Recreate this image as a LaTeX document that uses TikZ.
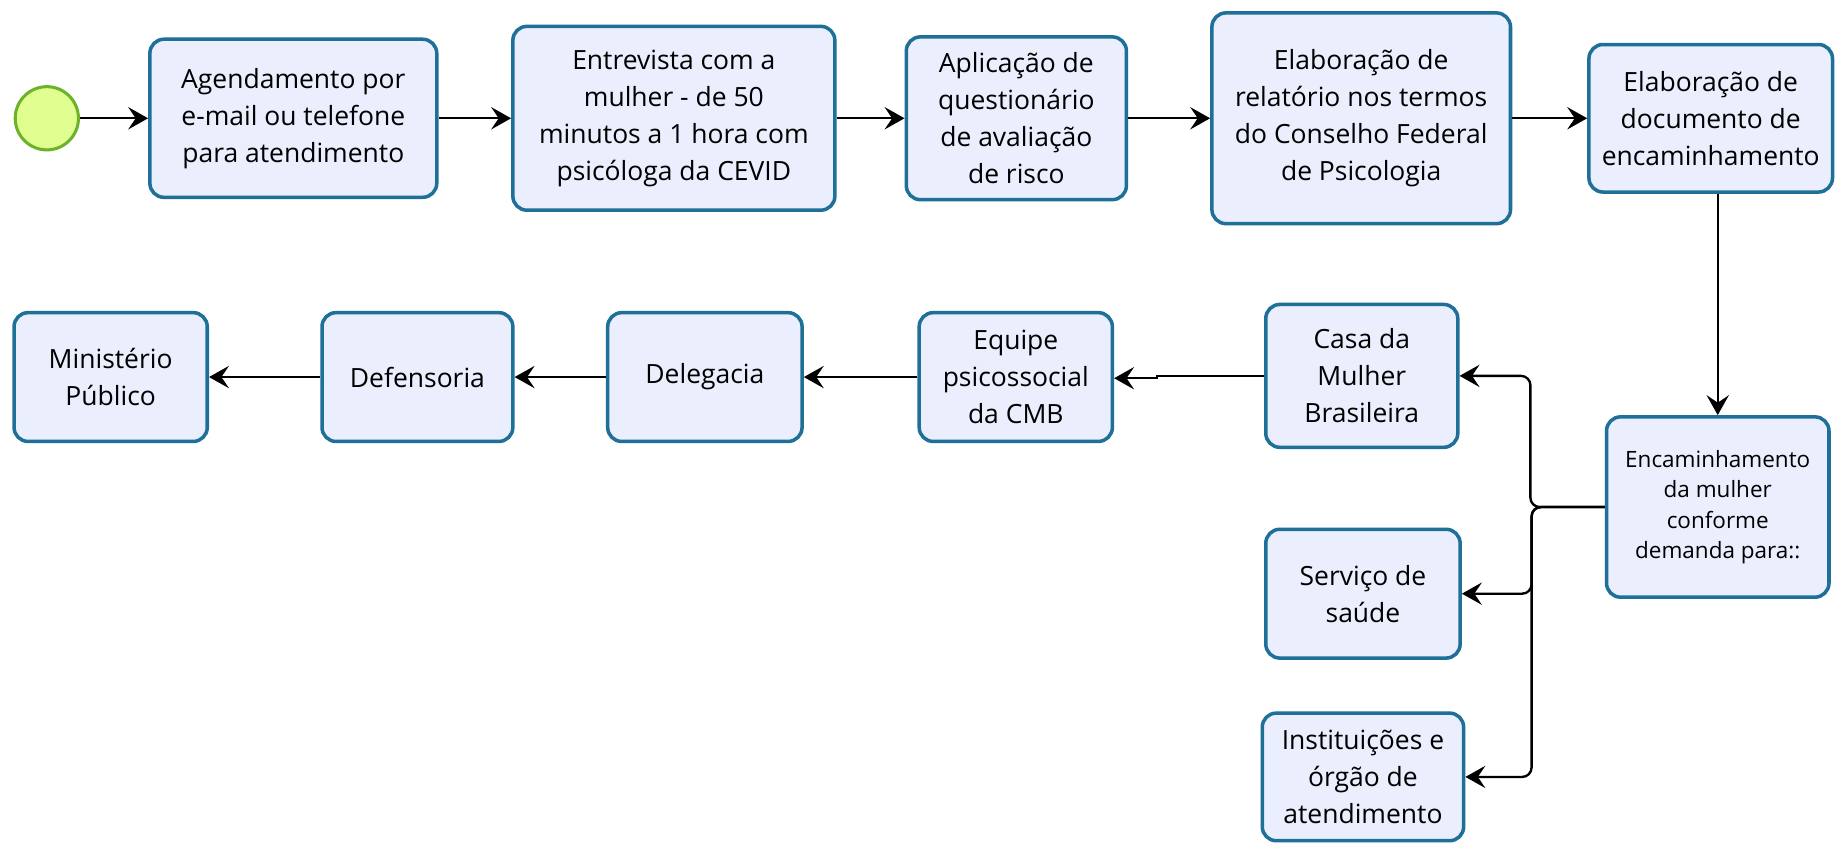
\documentclass[tikz,border=0pt]{standalone}
\usepackage{fontspec}
\setmainfont{Open Sans}
\usetikzlibrary{arrows.meta}
\definecolor{boxline}{RGB}{30,112,152}
\definecolor{boxfill}{RGB}{234,238,253}
\definecolor{startfill}{RGB}{224,255,144}
\definecolor{startline}{RGB}{110,178,42}
\begin{document}
\begin{tikzpicture}[x=0.5pt,y=-0.5pt,
  box/.style={draw=boxline, fill=boxfill, line width=1.5pt, rounded corners=6pt,
    align=center, inner sep=2pt, font=\fontsize{11.3}{15.8}\selectfont},
  sz/.style 2 args={minimum width=#1*0.5pt, minimum height=#2*0.5pt},
  conn/.style={draw=black, line width=1pt,
    -{Stealth[length=8.5pt,width=9.5pt,inset=3.2pt]}},
  rc/.style={rounded corners=4pt},
  startev/.style={circle, draw=startline, fill=startfill, line width=1.3pt, minimum size=27pt, inner sep=0pt}
]
\fill[white] (0,0) rectangle (1568,720);
\useasboundingbox (0,0) rectangle (1568,720);

\node[startev] (s) at (40,101) {};
\node[box, sz={245}{135}] (a1) at (250.5,101) {Agendamento por\\e-mail ou telefone\\para atendimento};
\node[box, sz={275}{157}] (a2) at (575.5,101) {Entrevista com a\\mulher - de 50\\minutos a 1 hora com\\psicóloga da CEVID};
\node[box, sz={188}{139}] (a3) at (868,101) {Aplicação de\\questionário\\de avaliação\\de risco};
\node[box, sz={255}{180}] (a4) at (1162.5,101) {Elaboração de\\relatório nos termos\\do Conselho Federal\\de Psicologia};
\node[box, sz={208}{126}] (a5) at (1461,101) {Elaboração de\\documento de\\encaminhamento};
\node[box, sz={190}{154}, font=\fontsize{9.6}{13}\selectfont] (enc) at (1467,433) {Encaminhamento\\da mulher\\conforme\\demanda para::};
\node[box, sz={164}{122}] (casa) at (1163,321) {Casa da\\Mulher\\Brasileira};
\node[box, sz={166}{110}] (serv) at (1164,507) {Serviço de\\saúde};
\node[box, sz={172}{109}] (inst) at (1164,663.5) {Instituições e\\órgão de\\atendimento};
\node[box, sz={165}{110}] (equipe) at (867.5,322) {Equipe\\psicossocial\\da CMB};
\node[box, sz={166}{110}] (deleg) at (602,322) {Delegacia};
\node[box, sz={163}{110}] (defens) at (356.5,322) {Defensoria};
\node[box, sz={165}{110}] (mp) at (94.5,322) {Ministério\\Público};

\draw[conn] (s) -- (a1);
\draw[conn] (a1) -- (a2);
\draw[conn] (a2) -- (a3);
\draw[conn] (a3) -- (a4);
\draw[conn] (a4) -- (a5);
\draw[conn] (enc.north |- a5.south) -- (enc.north);
\draw[conn, rc] (enc.west) -- (1307,433) |- (casa.east);
\draw[conn, rc] (enc.west) -- (1308,433) |- (serv.east);
\draw[conn, rc] (enc.west) -- (1308,433) |- (inst.east);
\draw[conn] (casa.west) -- (988,321) -- (988,323) -- (equipe.east |- 0,323);
\draw[conn] (equipe) -- (deleg);
\draw[conn] (deleg) -- (defens);
\draw[conn] (defens) -- (mp);
\end{tikzpicture}
\end{document}
